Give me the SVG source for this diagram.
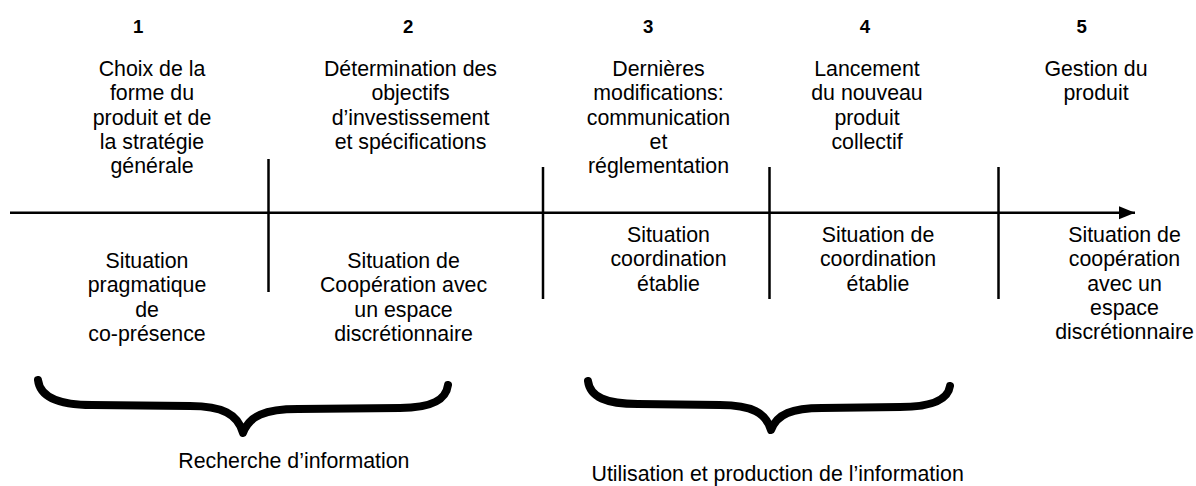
<svg xmlns="http://www.w3.org/2000/svg" width="1196" height="486" viewBox="0 0 1196 486">
<defs>
<style>
.t{font-family:"Liberation Sans",Arial,Helvetica,sans-serif;font-size:21.33px;fill:#000;text-anchor:middle}
.n{font-family:"Liberation Sans",Arial,Helvetica,sans-serif;font-size:18.67px;font-weight:bold;fill:#000;text-anchor:middle}
.s{text-anchor:start}
.ln{stroke:#000;stroke-width:2.5;fill:none}
.br{stroke:#000;stroke-width:8;fill:none;stroke-linecap:round;stroke-linejoin:round}
</style>
<marker id="arr" markerUnits="userSpaceOnUse" markerWidth="18" markerHeight="14" refX="16" refY="6.5" orient="auto">
<polygon points="0,0 16,6.5 0,13" fill="#000"/>
</marker>
</defs>
<rect width="1196" height="486" fill="#fff"/>

<g id="connectors">
<line class="ln" x1="10" y1="212.7" x2="1135" y2="212.7" marker-end="url(#arr)"/>
<line class="ln" x1="268.5" y1="159" x2="268.5" y2="292"/>
<line class="ln" x1="543" y1="167" x2="543" y2="299"/>
<line class="ln" x1="769.5" y1="167" x2="769.5" y2="299"/>
<line class="ln" x1="998.5" y1="167" x2="998.5" y2="299"/>
</g>

<g id="step1">
<text class="n" x="138.3" y="33.3">1</text>
<text class="t" x="152" y="76">Choix de la</text>
<text class="t" x="152" y="100.3">forme du</text>
<text class="t" x="152" y="124.6">produit et de</text>
<text class="t" x="152" y="148.9">la stratégie</text>
<text class="t" x="152" y="173.2">générale</text>
</g>
<g id="situation1">
<text class="t" x="147" y="268">Situation</text>
<text class="t" x="147" y="292.3">pragmatique</text>
<text class="t" x="147" y="316.6">de</text>
<text class="t" x="147" y="340.9">co-présence</text>
</g>

<g id="step2">
<text class="n" x="408.3" y="33.3">2</text>
<text class="t" x="410.5" y="76">Détermination des</text>
<text class="t" x="410.5" y="100.3">objectifs</text>
<text class="t" x="410.5" y="124.6">d’investissement</text>
<text class="t" x="410.5" y="148.9">et spécifications</text>
</g>
<g id="situation2">
<text class="t" x="403.5" y="268">Situation de</text>
<text class="t" x="403.5" y="292.3">Coopération avec</text>
<text class="t" x="403.5" y="316.6">un espace</text>
<text class="t" x="403.5" y="340.9">discrétionnaire</text>
</g>

<g id="step3">
<text class="n" x="648.3" y="33.3">3</text>
<text class="t" x="658.5" y="76">Dernières</text>
<text class="t" x="658.5" y="100.3">modifications:</text>
<text class="t" x="658.5" y="124.6">communication</text>
<text class="t" x="658.5" y="148.9">et</text>
<text class="t" x="658.5" y="173.2">réglementation</text>
</g>
<g id="situation3">
<text class="t" x="668.5" y="242">Situation</text>
<text class="t" x="668.5" y="266.3">coordination</text>
<text class="t" x="668.5" y="290.6">établie</text>
</g>

<g id="step4">
<text class="n" x="865" y="33.3">4</text>
<text class="t" x="867" y="76">Lancement</text>
<text class="t" x="867" y="100.3">du nouveau</text>
<text class="t" x="867" y="124.6">produit</text>
<text class="t" x="867" y="148.9">collectif</text>
</g>
<g id="situation4">
<text class="t" x="878" y="242">Situation de</text>
<text class="t" x="878" y="266.3">coordination</text>
<text class="t" x="878" y="290.6">établie</text>
</g>

<g id="step5">
<text class="n" x="1081.7" y="33.3">5</text>
<text class="t" x="1096" y="76">Gestion du</text>
<text class="t" x="1096" y="100.3">produit</text>
</g>
<g id="situation5">
<text class="t" x="1124.5" y="242">Situation de</text>
<text class="t" x="1124.5" y="266.3">coopération</text>
<text class="t" x="1124.5" y="290.6">avec un</text>
<text class="t" x="1124.5" y="314.9">espace</text>
<text class="t" x="1124.5" y="339.2">discrétionnaire</text>
</g>

<g id="brace1">
<path class="br" d="M38,380 C40,397 58,405 92,405 L190,406 C222,406 238,414 243,433 C249,416 265,409 298,409 L400,408 C432,408 446,400 448,385"/>
<text class="t s" x="178.3" y="467.7">Recherche d’information</text>
</g>

<g id="brace2">
<path class="br" d="M588,381 C590,397 606,404 638,404 L720,405 C752,405 766,413 771,430 C777,414 792,408 822,408 L900,407 C932,407 948,400 950,386"/>
<text class="t s" x="591.5" y="480.5">Utilisation et production de l’information</text>
</g>
</svg>
